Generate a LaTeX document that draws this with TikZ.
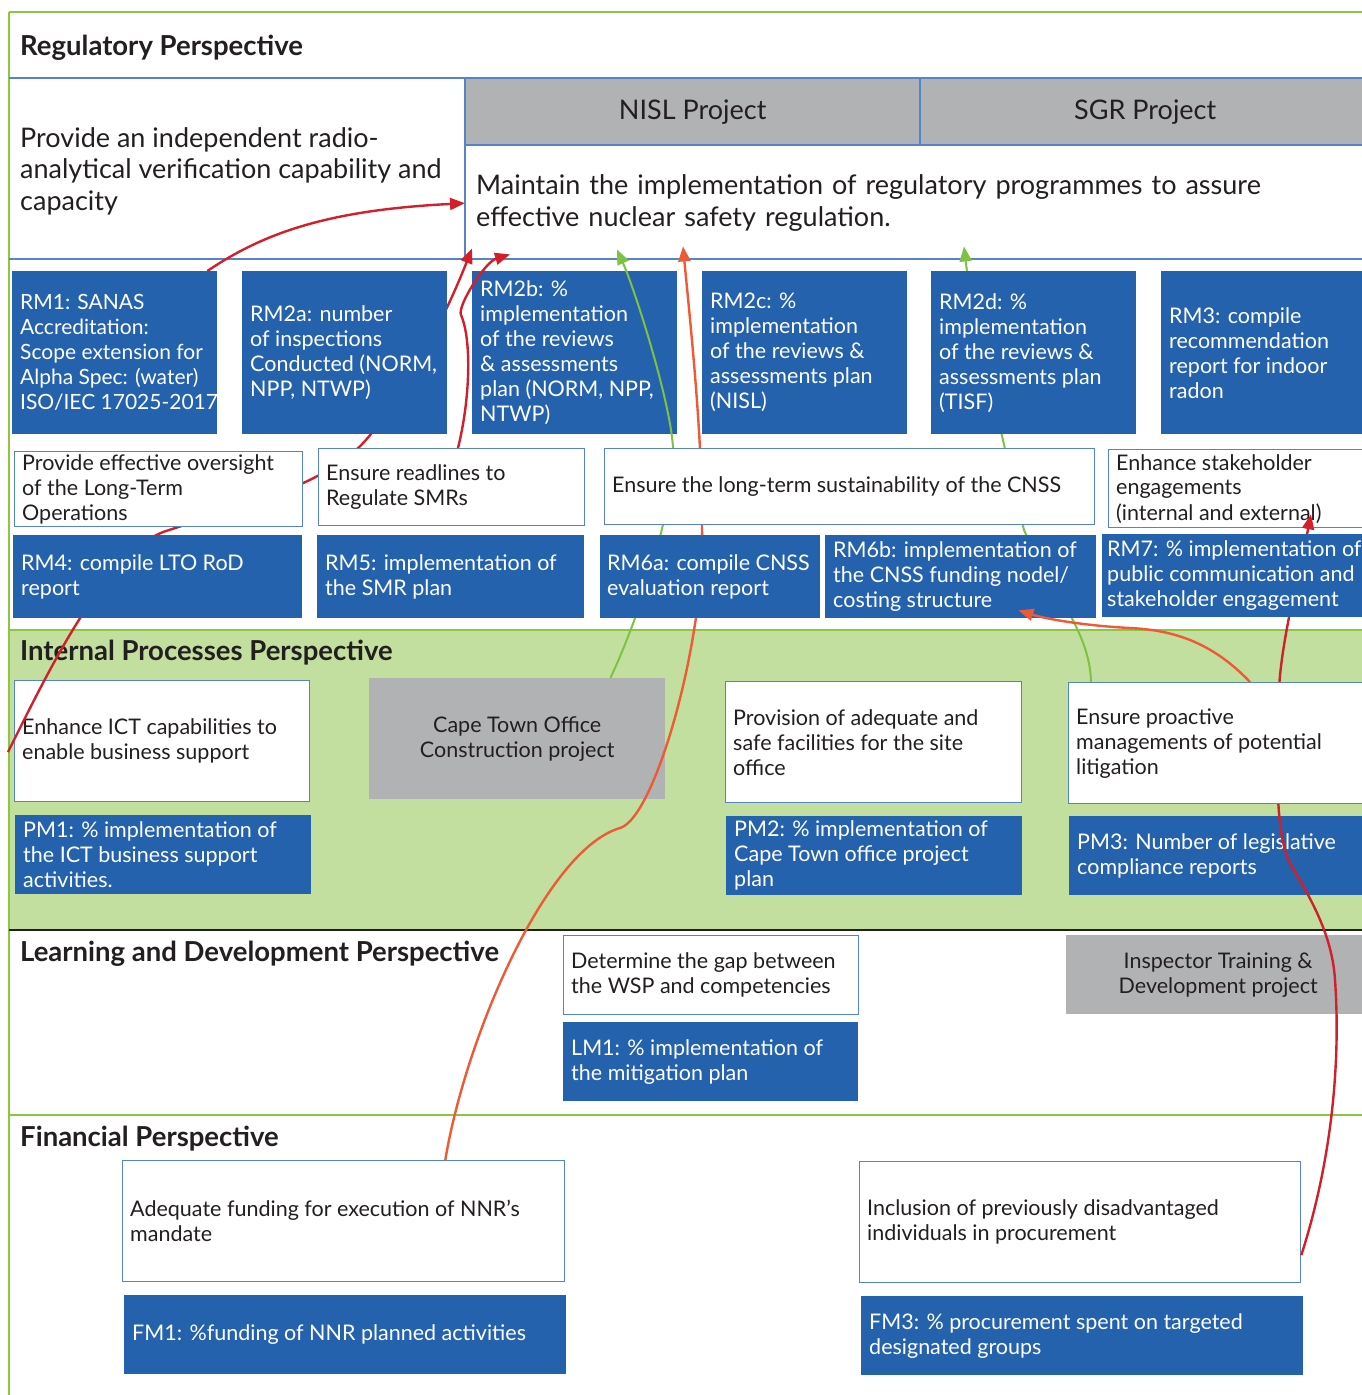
\documentclass[tikz,border=0pt]{standalone}
\usepackage{fontspec}
\setmainfont{Lato}
\usetikzlibrary{arrows.meta}

\definecolor{kpiblue}{RGB}{36,98,174}
\definecolor{cellblue}{RGB}{84,133,198}
\definecolor{projgray}{RGB}{177,178,180}
\definecolor{bandgreen}{RGB}{194,223,160}
\definecolor{linegreen}{RGB}{141,198,63}
\definecolor{linkred}{RGB}{210,32,42}
\definecolor{linkorange}{RGB}{239,90,54}
\definecolor{linkgreen}{RGB}{125,194,66}
\definecolor{inkblack}{RGB}{35,31,32}

\pgfdeclarelayer{bg}
\pgfdeclarelayer{mid}
\pgfsetlayers{bg,mid,main}

\tikzset{
  wh/.style 2 args={minimum width=#1pt, minimum height=#2pt},
  cellbox/.style={anchor=north west, inner sep=0pt},
  kpi/.style={cellbox, fill=kpiblue},
  goal/.style={cellbox, fill=white, draw=cellblue, line width=1.3pt},
  proj/.style={cellbox, fill=projgray, text=inkblack, align=center, font=\fontsize{21.5}{25}\selectfont},
  kpitext/.style={anchor=west, align=left, inner sep=0pt, text=white, font=\fontsize{21.5}{25}\selectfont},
  goaltext/.style={kpitext, text=inkblack},
  heading/.style={anchor=west, inner sep=0pt, text=inkblack, font=\bfseries\fontsize{27.5}{32}\selectfont},
  link/.style={line width=2.4pt, -{Triangle[length=15pt,width=12pt]}},
  glink/.style={link, line width=2pt, linkgreen},
}

\begin{document}
\begin{tikzpicture}[x=1pt,y=-1pt]
\useasboundingbox (0,0) rectangle (1362,1395);

\begin{pgfonlayer}{bg}
\fill[white] (0,0) rectangle (1362,1395);
\fill[bandgreen] (9,630) rectangle (1370,930);

% header cells
\node[cellbox, fill=projgray, wh={455}{67}, text=inkblack, font=\fontsize{27}{32}\selectfont] (nisl) at (465,78) {NISL Project};
\node[cellbox, fill=projgray, wh={450}{67}, text=inkblack, font=\fontsize{27}{32}\selectfont] (sgr) at (920,78) {SGR Project};
\node[anchor=west, align=left, inner sep=0pt, text=inkblack, font=\fontsize{27}{31.5}\selectfont] (capab) at (20,171) {Provide an independent radio-\\analytical verification capability and\\capacity};
\node[cellbox, wh={897}{114}, text width=875pt, inner xsep=11pt, align=left, text=inkblack, font=\fontsize{27}{32}\selectfont] (maintain) at (465,146) {Maintain the implementation of regulatory programmes to assure\\effective nuclear safety regulation.};

\draw[linegreen, line width=1.5pt] (9,12) -- (1362,12);
\draw[linegreen, line width=1.5pt] (9,12) -- (9,1395);
\draw[cellblue, line width=1.3pt] (9,78) -- (1362,78);
\draw[cellblue, line width=1.3pt] (465,145) -- (1362,145);
\draw[cellblue, line width=1.3pt] (9,259) -- (1362,259);
\draw[cellblue, line width=1.3pt] (465,78) -- (465,259);
\draw[cellblue, line width=1.3pt] (920,78) -- (920,145);
\draw[linegreen, line width=1.5pt] (9,630) -- (1362,630);
\draw[inkblack, line width=1.2pt] (9,930) -- (1362,930);
\draw[linegreen, line width=1.2pt] (9,1115) -- (1362,1115);

\node[heading] (regt) at (20,48) {Regulatory Perspective};
\node[heading] (intt) at (20,653) {Internal Processes Perspective};
\node[heading] (lrnt) at (20,954) {Learning and Development Perspective};
\node[heading] (fint) at (20,1139) {Financial Perspective};

% boxes that the links run over
\node[kpi, wh={205}{163}] (rm1) at (12,271) {};
\node[kpitext, font=\fontsize{21}{25}\selectfont] (rm1t) at ([xshift=8pt]rm1.west) {RM1: SANAS\\Accreditation:\\Scope extension for\\Alpha Spec: (water)\\ISO/IEC 17025-2017};
\node[kpi, wh={205}{163}] (rm2b) at (472,271) {};
\node[kpitext] (rm2bt) at ([xshift=8pt]rm2b.west) {RM2b: \%\\implementation\\of the reviews\\\& assessments\\plan (NORM, NPP,\\NTWP)};
\node[kpi, wh={205}{163}] (rm2c) at (702,271) {};
\node[kpitext] (rm2ct) at ([xshift=8pt]rm2c.west) {RM2c: \%\\implementation\\of the reviews \&\\assessments plan\\(NISL)};
\node[kpi, wh={210}{163}] (rm3) at (1161,271) {};
\node[kpitext] (rm3t) at ([xshift=8pt]rm3.west) {RM3: compile\\recommendation\\report for indoor\\radon};
\node[goal, wh={262}{78}] (stake) at (1108,449) {};
\node[goaltext] (staket) at ([xshift=8pt]stake.west) {Enhance stakeholder\\engagements\\(internal and external)};

\node[goal, wh={295}{121}] (ict) at (14,680) {};
\node[goaltext] (ictt) at ([xshift=8pt]ict.west) {Enhance ICT capabilities to\\enable business support};
\node[proj, wh={296}{121}] (cto) at (369,678) {Cape Town Office\\Construction project};
\node[goal, wh={296}{121}] (prov) at (725,681) {};
\node[goaltext] (provt) at ([xshift=8pt]prov.west) {Provision of adequate and\\safe facilities for the site\\office};
\node[kpi, wh={296}{79}] (pm1) at (15,815) {};
\node[kpitext] (pm1t) at ([xshift=8pt]pm1.west) {PM1: \% implementation of\\the ICT business support\\activities.};
\node[kpi, wh={296}{79}] (pm2) at (726,816) {};
\node[kpitext] (pm2t) at ([xshift=8pt]pm2.west) {PM2: \% implementation of\\Cape Town office project\\plan};
\node[kpi, wh={300}{79}] (pm3) at (1069,816) {};
\node[kpitext] (pm3t) at ([xshift=8pt]pm3.west) {PM3: Number of legislative\\compliance reports};

\node[goal, wh={295}{79}] (gap) at (563,935) {};
\node[goaltext] (gapt) at ([xshift=8pt]gap.west) {Determine the gap between\\the WSP and competencies};
\node[kpi, wh={295}{79}] (lm1) at (563,1022) {};
\node[kpitext] (lm1t) at ([xshift=8pt]lm1.west) {LM1: \% implementation of\\the mitigation plan};
\node[proj, wh={304}{79}] (itd) at (1066,935) {Inspector Training \&\\Development project};

\node[goal, wh={442}{121}] (fund) at (122,1160) {};
\node[goaltext] (fundt) at ([xshift=8pt]fund.west) {Adequate funding for execution of NNR’s\\mandate};
\node[kpi, wh={442}{79}] (fm1) at (124,1295) {};
\node[kpitext] (fm1t) at ([xshift=8pt]fm1.west) {FM1: \%funding of NNR planned activities};
\node[goal, wh={441}{121}] (incl) at (859,1161) {};
\node[goaltext] (inclt) at ([xshift=8pt]incl.west) {Inclusion of previously disadvantaged\\individuals in procurement};
\node[kpi, wh={442}{79}] (fm3) at (861,1296) {};
\node[kpitext] (fm3t) at ([xshift=8pt]fm3.west) {FM3: \% procurement spent on targeted\\designated groups};
\end{pgfonlayer}

% boxes that hide the links
\node[kpi, wh={205}{163}] (rm2a) at (242,271) {};
\node[kpitext] (rm2at) at ([xshift=8pt]rm2a.west) {RM2a: number\\of inspections\\Conducted (NORM,\\NPP, NTWP)};
\node[kpi, wh={205}{163}] (rm2d) at (931,271) {};
\node[kpitext] (rm2dt) at ([xshift=8pt]rm2d.west) {RM2d: \%\\implementation\\of the reviews \&\\assessments plan\\(TISF)};
\node[goal, wh={288}{75}] (overs) at (14,451) {};
\node[goaltext] (overst) at ([xshift=8pt]overs.west) {Provide effective oversight\\of the Long-Term\\Operations};
\node[goal, wh={266}{77}] (readl) at (318,448) {};
\node[goaltext] (readlt) at ([xshift=8pt]readl.west) {Ensure readlines to\\Regulate SMRs};
\node[goal, wh={490}{76}] (cnss) at (604,448) {};
\node[goaltext] (cnsst) at ([xshift=8pt]cnss.west) {Ensure the long-term sustainability of the CNSS};
\node[kpi, wh={289}{83}] (rm4) at (13,535) {};
\node[kpitext] (rm4t) at ([xshift=8pt]rm4.west) {RM4: compile LTO RoD\\report};
\node[kpi, wh={267}{83}] (rm5) at (317,535) {};
\node[kpitext] (rm5t) at ([xshift=8pt]rm5.west) {RM5: implementation of\\the SMR plan};
\node[kpi, wh={220}{83}] (rm6a) at (600,535) {};
\node[kpitext] (rm6at) at ([xshift=7pt]rm6a.west) {RM6a: compile CNSS\\evaluation report};
\node[kpi, wh={271}{83}] (rm6b) at (825,535) {};
\node[kpitext] (rm6bt) at ([xshift=8pt]rm6b.west) {RM6b: implementation of\\the CNSS funding nodel/\\costing structure};
\node[kpi, wh={270}{83}] (rm7) at (1102,534) {};
\node[kpitext] (rm7t) at ([xshift=5pt]rm7.west) {RM7: \% implementation of\\public communication and\\stakeholder engagement};
\node[goal, wh={300}{121}] (proact) at (1068,682) {};
\node[goaltext] (proactt) at ([xshift=8pt]proact.west) {Ensure proactive\\managements of potential\\litigation};

% links
\coordinate (bsrc) at (8,752);
\begin{pgfonlayer}{mid}
\draw[link, linkred] ([xshift=-10pt]rm1.north east) .. controls (265,232) and (330,210) .. (maintain.west);
\draw[link, linkred] (bsrc) .. controls (48,672) and (106,551) .. (166,531)
  .. controls (236,508) and (325,486) .. (365,441)
  .. controls (405,396) and (446,315) .. ([xshift=7pt,yshift=12pt]maintain.south west);
\draw[link, linkred] ([xshift=140pt]readl.north west) .. controls (470,400) and (472,340) .. (461,315)
  .. controls (457,306) and (485,262) .. ([xshift=45pt,yshift=6pt]maintain.south west);
\draw[glink] ([xshift=-55pt]cto.north east) .. controls (640,615) and (674,510) .. (673,447)
  .. controls (670,400) and (635,290) .. ([xshift=152pt,yshift=11pt]maintain.south west);
\draw[glink] ([xshift=23pt]proact.north west) .. controls (1090,630) and (1050,590) .. (1024,530)
  .. controls (1012,480) and (970,300) .. ([xshift=499pt,yshift=14pt]maintain.south west);
\draw[link, linkorange] ([xshift=-120pt]fund.north east) .. controls (465,1040) and (545,850) .. (620,828)
  .. controls (655,818) and (705,640) .. (702,530)
  .. controls (703,440) and (690,320) .. ([xshift=218pt,yshift=14pt]maintain.south west);
\draw[link, linkred] ([yshift=-33pt]incl.east) .. controls (1335,1150) and (1340,1050) .. (1335,980)
  .. controls (1332,930) and (1305,890) .. (1290,863)
  .. controls (1275,835) and (1276,760) .. (1279,690)
  .. controls (1281,640) and (1302,560) .. ([xshift=203pt,yshift=14pt]stake.south west);
\end{pgfonlayer}
\draw[link, linkorange] ([xshift=182pt]proact.north west) .. controls (1210,640) and (1170,630) .. (1130,628)
  .. controls (1090,626) and (1050,620) .. ([xshift=-78pt,yshift=8pt]rm6b.south east);

\end{tikzpicture}
\end{document}
